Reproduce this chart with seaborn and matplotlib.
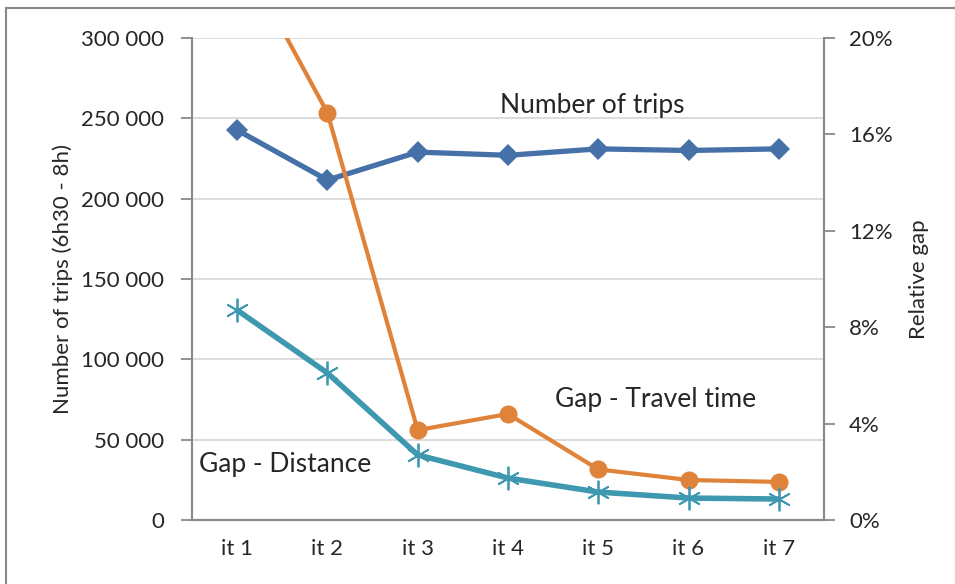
import pandas as pd
import matplotlib.pyplot as plt
import matplotlib.ticker as mticker
from matplotlib.patches import Rectangle
import seaborn as sns

# Data
iterations = ["it 1", "it 2", "it 3", "it 4", "it 5", "it 6", "it 7"]
num_trips = [242700, 211600, 229000, 227000, 231000, 230000, 231000]
gap_travel_time = [0.238, 0.169, 0.0373, 0.044, 0.021, 0.0166, 0.0158]
gap_distance = [0.0871, 0.061, 0.027, 0.0174, 0.0116, 0.0091, 0.0087]

df = pd.DataFrame({
    "Iteration": iterations,
    "Trips": num_trips,
    "GapTime": gap_travel_time,
    "GapDist": gap_distance,
})

sns.set_style("white")
plt.rcParams["font.family"] = ["Lato", "DejaVu Sans"]
plt.rcParams["font.size"] = 16

c_blue = "#4570A8"
c_orange = "#DF823A"
c_teal = "#3E98B0"
c_axis = "#898989"

fig = plt.figure(figsize=(9.55, 5.84), dpi=100)
ax = fig.add_axes([0.2010, 0.1096, 0.6618, 0.8253])
ax2 = ax.twinx()

# Left axis: number of trips
sns.lineplot(data=df, x="Iteration", y="Trips", ax=ax, color=c_blue, lw=3.8,
             marker="D", markersize=11, markeredgewidth=0, sort=False, zorder=3)

# Right axis: relative gaps
sns.lineplot(data=df, x="Iteration", y="GapTime", ax=ax2, color=c_orange, lw=3,
             marker="o", markersize=13, markeredgewidth=0, sort=False, zorder=3)
sns.lineplot(data=df, x="Iteration", y="GapDist", ax=ax2, color=c_teal, lw=4,
             marker=(6, 2, 0), markersize=17, markeredgewidth=1.3,
             markeredgecolor=c_teal, sort=False, zorder=3)

ax.set_xlim(-0.5, 6.5)
ax.set_ylim(0, 300000)
ax2.set_ylim(0, 0.20)
ax.set_yticks(range(0, 300001, 50000))
ax2.set_yticks([0, 0.04, 0.08, 0.12, 0.16, 0.20])
ax.yaxis.set_major_formatter(mticker.FuncFormatter(lambda v, p: f"{int(v):,}".replace(",", " ")))
ax2.yaxis.set_major_formatter(mticker.FuncFormatter(lambda v, p: f"{v * 100:.0f}%"))

# gridlines only for left ticks
ax.grid(axis="y", color="#D9D9D9", lw=1.3)
ax.set_axisbelow(True)

# x ticks: labels at categories, tick marks between them
ax.set_xticks(range(len(iterations)))
ax.set_xticklabels(iterations)
ax.set_xticks([i - 0.5 for i in range(len(iterations) + 1)], minor=True)
ax.tick_params(axis="x", which="major", length=0, pad=14, labelsize=16)
ax.tick_params(axis="x", which="minor", length=7, width=1.3, color=c_axis, direction="out")
ax.tick_params(axis="y", length=8, width=1.3, color=c_axis, pad=12, labelsize=16)
ax2.tick_params(axis="y", length=8, width=1.3, color=c_axis, pad=10, labelsize=16)

for a in (ax, ax2):
    a.spines["top"].set_visible(False)
    for s in ("left", "right", "bottom"):
        a.spines[s].set_color(c_axis)
        a.spines[s].set_linewidth(1.5)
ax.spines["right"].set_visible(False)
ax2.spines["left"].set_visible(False)

ax.set_xlabel("")
ax.set_ylabel("Number of trips (6h30 - 8h)", labelpad=6, fontsize=16)
ax2.set_ylabel("Relative gap", labelpad=12, fontsize=16)

# series labels
ax.text(3.93, 258000, "Number of trips", ha="center", va="center", fontsize=19)
ax2.text(4.63, 0.0498, "Gap - Travel time", ha="center", va="center", fontsize=19)
ax2.text(0.53, 0.0232, "Gap - Distance", ha="center", va="center", fontsize=19)

# chart border
fig.patches.append(Rectangle((6 / 955, -0.1), 1.2, 1 - 8 / 584 + 0.1,
                             transform=fig.transFigure, fill=False,
                             edgecolor=c_axis, lw=1.5))

fig.savefig("out.png", dpi=100)
